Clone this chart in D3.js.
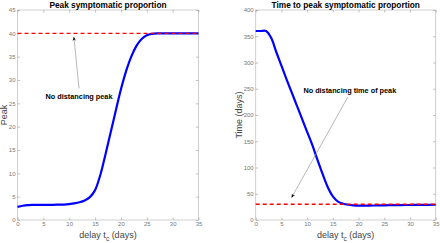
<html>
<head>
<meta charset="utf-8">
<title>Peak symptomatic proportion</title>
<style>
  body { margin: 0; background: #fff; }
  text { font-family: "Liberation Sans", Arial, sans-serif; }
</style>
</head>
<body>
<script src="https://cdn.jsdelivr.net/npm/d3@7"></script>
<script>
var width = 440, height = 243;

// delay t_c (days)
var delay = [0, 1, 2, 3, 4, 5, 6, 7, 8, 9, 10, 11, 12, 13, 14, 15, 16, 17, 18, 19, 20, 21, 22, 23, 24, 25, 26, 27, 28, 30, 32, 35];
// peak symptomatic proportion
var peak = [2.8, 3.05, 3.2, 3.25, 3.25, 3.25, 3.25, 3.25, 3.3, 3.3, 3.4, 3.55, 3.8, 4.2, 4.9, 6.4, 9.6, 14, 18.7, 23.4, 28, 31.9, 35, 37.3, 38.8, 39.6, 39.9, 40, 40, 40, 40, 40];
// time to peak (days)
var timePeak = [360, 360, 360, 347, 320, 294, 268, 243, 218, 193, 168, 143, 115, 88, 63, 45, 35, 31, 29, 28, 27.5, 27.5, 27.5, 27.6, 27.8, 28, 28.2, 28.3, 28.4, 28.6, 28.8, 29];
var noDistPeak = 40;
var noDistTime = 30;

var xTicks = [0, 5, 10, 15, 20, 25, 30, 35];
var peakTicks = [0, 5, 10, 15, 20, 25, 30, 35, 40, 45];
var timeTicks = [0, 50, 100, 150, 200, 250, 300, 350, 400];

var svg = d3.select("body").append("svg")
    .attr("width", width)
    .attr("height", height);

svg.append("defs").append("marker")
    .attr("id", "head")
    .attr("viewBox", "0 0 10 10")
    .attr("refX", 9).attr("refY", 5)
    .attr("markerWidth", 6).attr("markerHeight", 6)
    .attr("orient", "auto")
    .append("path")
    .attr("d", "M0,1 L10,5 L0,9 L3,5 Z")
    .attr("fill", "#000");

function panel(opt) {
    var g = svg.append("g");
    var x = d3.scaleLinear().domain([0, 35]).range([opt.left, opt.right]);
    var y = d3.scaleLinear().domain([0, opt.ymax]).range([220, 10]);

    // box
    g.append("rect")
        .attr("x", opt.left).attr("y", 10)
        .attr("width", opt.right - opt.left).attr("height", 210)
        .attr("fill", "#fff").attr("stroke", "#c4c4c4").attr("stroke-width", 0.8);

    // inside ticks on all four sides
    var ax = [
        d3.axisBottom(x).tickValues(xTicks).tickSize(-2.5).tickPadding(2),
        d3.axisTop(x).tickValues(xTicks).tickSize(-2.5).tickFormat(""),
        d3.axisLeft(y).tickValues(opt.yticks).tickSize(-2.5).tickPadding(2),
        d3.axisRight(y).tickValues(opt.yticks).tickSize(-2.5).tickFormat("")
    ];
    var tr = ["translate(0,220)", "translate(0,10)",
              "translate(" + opt.left + ",0)", "translate(" + opt.right + ",0)"];
    ax.forEach(function (a, i) {
        var ag = g.append("g").attr("transform", tr[i]).call(a);
        ag.select(".domain").remove();
        ag.selectAll("line").attr("stroke", "#999").attr("stroke-width", 0.6);
        ag.selectAll("text").attr("fill", "#777").attr("font-size", 6)
            .style("font-family", "Liberation Sans, Arial, sans-serif");
    });

    var line = d3.line()
        .x(function (d, i) { return x(delay[i]); })
        .y(function (d) { return y(d); })
        .curve(d3.curveCatmullRom.alpha(0.5));

    g.append("path")
        .datum(opt.values)
        .attr("d", line)
        .attr("fill", "none")
        .attr("stroke", "#0000ff")
        .attr("stroke-width", 2.2);

    g.append("line")
        .attr("x1", x(0)).attr("x2", x(35))
        .attr("y1", y(opt.ref)).attr("y2", y(opt.ref))
        .attr("stroke", "#ff0000").attr("stroke-width", 1.4)
        .attr("stroke-dasharray", "4,3");

    // annotation
    g.append("line")
        .attr("x1", x(opt.arrow[0])).attr("y1", y(opt.arrow[1]))
        .attr("x2", x(opt.arrow[2])).attr("y2", y(opt.arrow[3]))
        .attr("stroke", "#999").attr("stroke-width", 0.7)
        .attr("marker-end", "url(#head)");
    g.append("text")
        .attr("x", x(opt.label[0])).attr("y", y(opt.label[1]))
        .attr("text-anchor", "middle")
        .attr("font-size", 7.3).attr("font-weight", "bold")
        .attr("fill", "#000")
        .text(opt.label[2]);

    // title
    g.append("text")
        .attr("x", (opt.left + opt.right) / 2).attr("y", 7.5)
        .attr("text-anchor", "middle")
        .attr("font-size", 8.3).attr("font-weight", "bold")
        .attr("fill", "#000")
        .text(opt.title);

    // x label
    var xl = g.append("text")
        .attr("x", (opt.left + opt.right) / 2).attr("y", 238)
        .attr("text-anchor", "middle")
        .attr("font-size", 9).attr("fill", "#444");
    xl.append("tspan").text("delay t");
    xl.append("tspan").attr("font-size", 6.5).attr("dy", 3).text("c");
    xl.append("tspan").attr("dy", -3).text(" (days)");

    // y label
    g.append("text")
        .attr("transform", "translate(" + opt.ylabX + ",115) rotate(-90)")
        .attr("text-anchor", "middle")
        .attr("font-size", 9).attr("fill", "#444")
        .text(opt.ylabel);
}

panel({
    left: 17.5, right: 198.5, ymax: 45, yticks: peakTicks,
    values: peak, ref: noDistPeak,
    title: "Peak symptomatic proportion", ylabel: "Peak", ylabX: 7,
    label: [11.9, 26, "No distancing peak"],
    arrow: [11.9, 28.2, 10.9, 39.2]
});

panel({
    left: 255.7, right: 435.7, ymax: 400, yticks: timeTicks,
    values: timePeak, ref: noDistTime,
    title: "Time to peak symptomatic proportion", ylabel: "Time (days)", ylabX: 241.5,
    label: [18.3, 242, "No distancing time of peak"],
    arrow: [17.9, 234, 7.0, 43]
});
</script>
</body>
</html>
